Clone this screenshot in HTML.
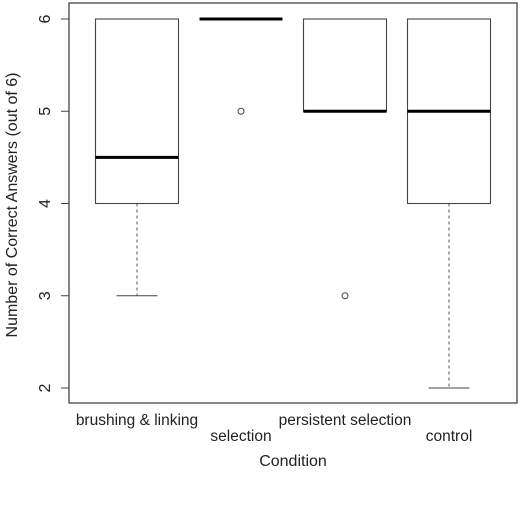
<!DOCTYPE html>
<html><head><meta charset="utf-8"><style>
body{margin:0;background:#fff}
svg{display:block;font-family:"Liberation Sans",sans-serif}
</style></head><body>
<svg id="chart" width="520" height="529">
<rect x="69" y="3" width="448" height="400" fill="none" stroke="#444" stroke-width="1.3"/>
<text x="17" y="205" transform="rotate(-90 17 205)" font-size="16" fill="#222" text-anchor="middle">Number of Correct Answers (out of 6)</text>
<text x="293" y="466" font-size="16" fill="#222" text-anchor="middle">Condition</text>
<g id="g"></g>
</svg>
<script>
const categories=["brushing & linking","selection","persistent selection","control"];
const q1=[4,6,5,4];
const medians=[4.5,6,5,5];
const q3=[6,6,6,6];
const whiskLo=[3,6,5,2];
const whiskHi=[6,6,6,6];
const outliers=[[],[5],[3],[]];
const yTicks=[2,3,4,5,6];
const y=v=>388-(v-2)*92.25;
const x=i=>137+i*104;
const g=document.getElementById('g');
const ns='http://www.w3.org/2000/svg';
function mk(t,a,p){const e=document.createElementNS(ns,t);for(const k in a)e.setAttribute(k,a[k]);(p||g).appendChild(e);return e;}
yTicks.forEach(t=>{
 const l=mk('line',{x1:61,x2:69,y1:y(t),y2:y(t),stroke:'#444'});
 
 
 const tx=mk('text',{x:44,y:y(t)+6,'font-size':16,fill:'#222','text-anchor':'middle',transform:`rotate(-90 44 ${y(t)})`});
 tx.textContent=t;
 
 
});
categories.forEach((c,i)=>{
 const cx=x(i),hw=41.5,cw=20.5;
 const grp=mk('g',{});
 
 
 if(whiskLo[i]<q1[i]){mk('line',{x1:cx,x2:cx,y1:y(q1[i]),y2:y(whiskLo[i]),stroke:'#555','stroke-dasharray':'3,3'},grp);mk('line',{x1:cx-cw,x2:cx+cw,y1:y(whiskLo[i]),y2:y(whiskLo[i]),stroke:'#444'},grp);}
 if(whiskHi[i]>q3[i]){mk('line',{x1:cx,x2:cx,y1:y(q3[i]),y2:y(whiskHi[i]),stroke:'#555','stroke-dasharray':'3,3'},grp);}
 mk('line',{x1:cx-cw,x2:cx+cw,y1:y(whiskHi[i]),y2:y(whiskHi[i]),stroke:'#444'},grp);
 if(q3[i]>q1[i])mk('rect',{x:cx-hw,y:y(q3[i]),width:hw*2,height:y(q1[i])-y(q3[i]),fill:'none',stroke:'#444','stroke-width':1.1},grp);
 mk('line',{x1:cx-hw,x2:cx+hw,y1:y(medians[i]),y2:y(medians[i]),stroke:'#000','stroke-width':3},grp);
 outliers[i].forEach(o=>mk('circle',{cx:cx,cy:y(o),r:3,fill:'none',stroke:'#444'},grp));
 const ty=i%2?441:425;
 const tx=mk('text',{x:cx,y:ty,'font-size':15.5,fill:'#222','text-anchor':'middle'});
 tx.textContent=c;
 
 
});
</script>
</body></html>
